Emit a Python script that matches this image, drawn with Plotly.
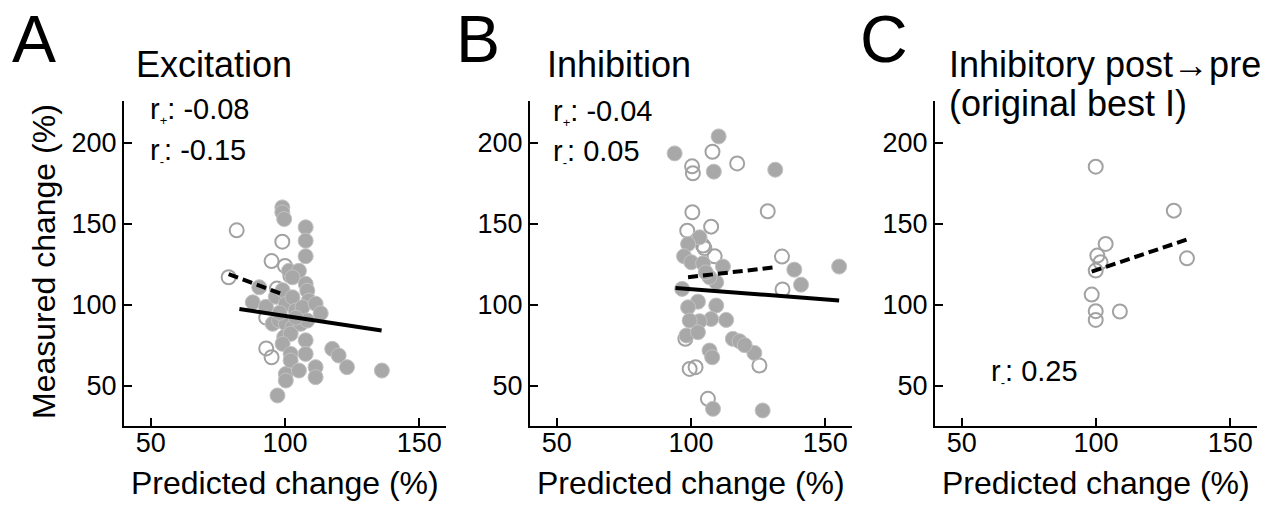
import plotly.graph_objects as go

# ---------------- data ----------------
A_open_x = [82, 79, 99, 95, 100, 97, 93, 93, 95, 102]
A_open_y = [146, 117, 139, 127, 124, 110, 92, 73, 67.5, 118]
A_filled_x = [99, 99, 99.7, 107.7, 107.7, 107.7, 101.5, 105.2, 102.8, 107.7, 108.3, 108.9,
              90.4, 88, 92.9, 96.6, 99.1, 100.3, 102.8, 104, 106.5, 111.4, 113.3,
              95.4, 97.8, 100.3, 102.8, 105.9, 108.3, 99.7, 102.1, 99.1, 107.7, 107.7, 102.1,
              100.3, 102.1, 105.2, 100.3, 111.4, 111.4, 117.6, 120, 123.1, 136.1, 97.2, 104, 98]
A_filled_y = [160.2, 157.1, 153, 147.9, 139.6, 130, 121, 121, 117, 112.9, 108.7, 102.6,
              110.8, 101.5, 98.7, 104.9, 109, 100.5, 104.6, 96.4, 98.5, 100.6, 94.7,
              88.2, 90.2, 88.2, 86.1, 88.2, 90.2, 80, 82, 75.8, 78, 69.6, 69.6,
              57.2, 65.5, 59.3, 53.1, 61.4, 55.2, 72.7, 68.6, 61.4, 59.3, 43.9, 92, 95]
A_fit_pos_x = [83, 136]
A_fit_pos_y = [97.4, 84]
A_fit_neg_x = [79, 98.7]
A_fit_neg_y = [119, 106.7]

B_open_x = [108, 100.4, 100.7, 117.2, 128.6, 100.5, 107.5, 98.6, 104.5, 108.8, 133.9, 134.1,
            99.5, 101.7, 125.5, 106.3, 97.9, 105]
B_open_y = [194.6, 185.6, 181.3, 187.4, 157.8, 157.2, 148.3, 145.8, 136.6, 130, 129.8, 109.4,
            60.3, 61.4, 62.4, 41.8, 78.9, 135]
B_filled_x = [93.9, 110.3, 108.5, 131.4, 155.2, 138.5, 141, 103.2, 98.9, 97.4, 100.1, 104.5,
              111.9, 109.4, 96.7, 102.6, 109.4, 98.9, 113.1, 107.5, 103.2, 99.5, 98.3, 102.6,
              115.6, 118.1, 123.6, 106.9, 107.9, 108.2, 126.7, 106.9, 105.5, 120]
B_filled_y = [193.6, 204.1, 182.3, 183.5, 123.6, 121.7, 112.4, 141.7, 137.6, 130, 126.3, 125.6,
              123.6, 113.9, 109.8, 101.9, 99.5, 98.4, 90.6, 91.2, 89.8, 90.2, 81, 83,
              78.9, 77.4, 70.2, 71.7, 67.5, 35.6, 34.6, 117, 120, 75]
B_fit_pos_x = [94.2, 155.2]
B_fit_pos_y = [110.4, 102.6]
B_fit_neg_x = [98.9, 131.4]
B_fit_neg_y = [117, 123.2]

C_open_x = [99.9, 129, 103.6, 100.5, 101.7, 99.9, 133.9, 98.4, 99.9, 99.9, 108.9]
C_open_y = [185.4, 158.2, 137.6, 130.4, 126.3, 121.1, 128.7, 106.3, 96, 90.6, 95.8]
C_fit_neg_x = [98.4, 133.9]
C_fit_neg_y = [120.5, 140.3]

x_ticks = [50, 100, 150]
y_ticks = [50, 100, 150, 200]
panel_letters = ["A", "B", "C"]
panel_titles = ["Excitation", "Inhibition", "Inhibitory post\u2192pre", "(original best I)"]
SUB = '<sub><span style="font-size:13px">{}</span></sub>'
r_labels = ["r" + SUB.format("+") + ": -0.08", "r" + SUB.format("-") + ": -0.15",
            "r" + SUB.format("+") + ": -0.04", "r" + SUB.format("-") + ": 0.05",
            "r" + SUB.format("-") + ": 0.25"]
x_title = "Predicted change (%)"
y_title = "Measured change (%)"

# ---------------- styling ----------------
# the page body has an 8px default margin; lay out in window pixels and shift
OFF = 8
W, H = 1271 - OFF, 505 - OFF
FONT = "Liberation Sans, Arial, sans-serif"
GRAY = "#a8a8a8"

fig = go.Figure()


def add_panel(idx, open_x, open_y, filled_x, filled_y, fits):
    xa = "x" if idx == 1 else f"x{idx}"
    ya = "y" if idx == 1 else f"y{idx}"
    fig.add_trace(go.Scatter(x=open_x, y=open_y, mode="markers", xaxis=xa, yaxis=ya,
                             marker=dict(symbol="circle-open", size=14, color="#a2a2a2",
                                         line=dict(width=2, color="#a2a2a2")),
                             showlegend=False, hoverinfo="skip"))
    if filled_x:
        fig.add_trace(go.Scatter(x=filled_x, y=filled_y, mode="markers", xaxis=xa, yaxis=ya,
                                 marker=dict(symbol="circle", size=15, color=GRAY,
                                             line=dict(width=1, color="#c2c2c2")),
                                 showlegend=False, hoverinfo="skip"))
    for fx, fy, dash in fits:
        fig.add_trace(go.Scatter(x=fx, y=fy, mode="lines", xaxis=xa, yaxis=ya,
                                 line=dict(color="black", width=4, dash=dash),
                                 showlegend=False, hoverinfo="skip"))


add_panel(1, A_open_x, A_open_y, A_filled_x, A_filled_y,
          [(A_fit_pos_x, A_fit_pos_y, "solid"), (A_fit_neg_x, A_fit_neg_y, "10px,5px")])
add_panel(2, B_open_x, B_open_y, B_filled_x, B_filled_y,
          [(B_fit_pos_x, B_fit_pos_y, "solid"), (B_fit_neg_x, B_fit_neg_y, "10px,5px")])
add_panel(3, C_open_x, C_open_y, [], [],
          [(C_fit_neg_x, C_fit_neg_y, "10px,5px")])

x_domains = [(124, 446), (530, 852), (935, 1257)]
y_top, y_bot = 101, 426
y_dom = [1 - (y_bot - OFF) / H, 1 - (y_top - OFF) / H]

axis_common = dict(showline=True, linewidth=2, linecolor="black", ticks="inside",
                   ticklen=8, tickwidth=2, tickcolor="black", showgrid=False,
                   zeroline=False, tickfont=dict(size=27, color="black", family=FONT))

layout = dict(width=W, height=H, margin=dict(l=0, r=0, t=0, b=0),
              paper_bgcolor="white", plot_bgcolor="white",
              font=dict(family=FONT, color="black"))
for i, (x0, x1) in enumerate(x_domains, start=1):
    sfx = "" if i == 1 else str(i)
    layout[f"xaxis{sfx}"] = dict(domain=[(x0 - OFF) / W, (x1 - OFF) / W], range=[40, 160],
                                 tickvals=x_ticks, anchor=f"y{sfx}", ticklabelstandoff=-8,
                                 **axis_common)
    layout[f"yaxis{sfx}"] = dict(domain=y_dom, range=[25, 226], tickvals=y_ticks,
                                 anchor=f"x{sfx}", **axis_common)
fig.update_layout(**layout)


def ann(text, px, py, size, xanchor="left", yanchor="middle", angle=0):
    fig.add_annotation(text=text, x=(px - OFF) / W, y=1 - (py - OFF) / H,
                       xref="paper", yref="paper",
                       showarrow=False, xanchor=xanchor, yanchor=yanchor, textangle=angle,
                       font=dict(size=size, family=FONT, color="black"))


# panel letters
for letter, cx in zip(panel_letters, [34, 478, 884]):
    ann(letter, cx, 39, 66, xanchor="center")

# titles
ann(panel_titles[0], 134, 65, 36)
ann(panel_titles[1], 545, 65, 36)
ann(panel_titles[2], 947, 65, 36)
ann(panel_titles[3], 947, 104, 36)

# r labels
ann(r_labels[0], 148, 110, 29)
ann(r_labels[1], 148, 151, 29)
ann(r_labels[2], 551, 112, 29)
ann(r_labels[3], 551, 152, 29)
ann(r_labels[4], 989, 372, 29)

# axis titles
for (x0, x1) in x_domains:
    ann(x_title, (x0 + x1) / 2, 483, 32, xanchor="center")
ann(y_title, 44, 262, 32, xanchor="center", angle=-90)

fig.write_html("out.html")
